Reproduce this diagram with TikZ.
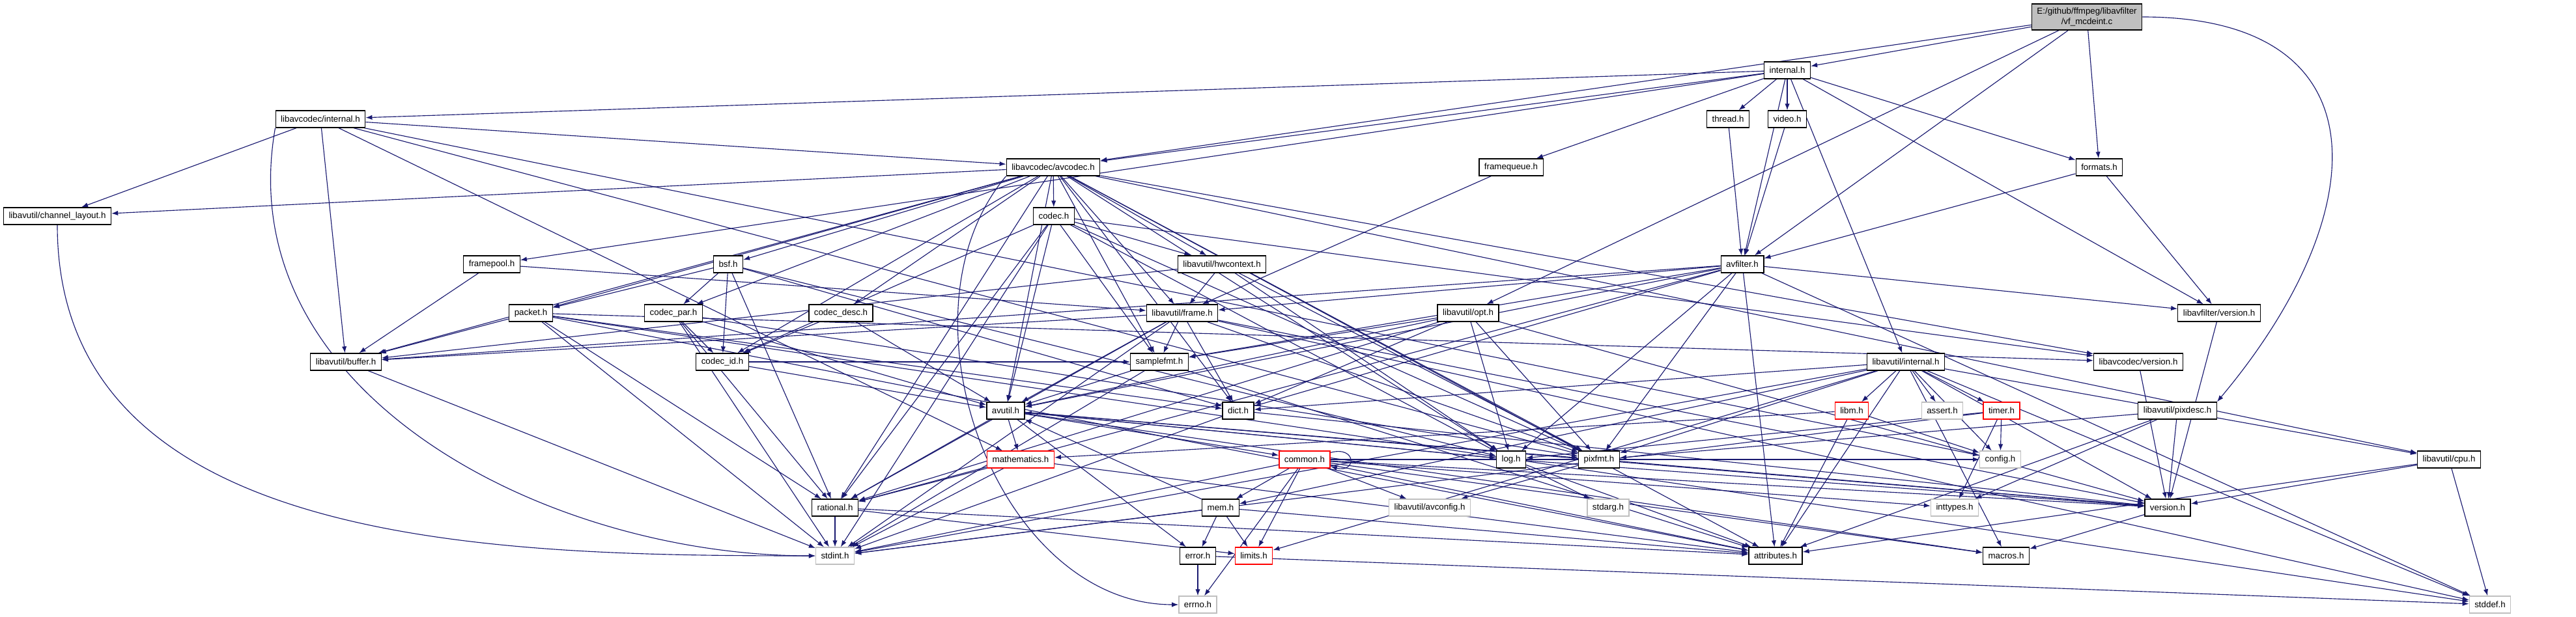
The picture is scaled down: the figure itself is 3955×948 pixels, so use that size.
\documentclass[tikz,border=0pt]{standalone}
\usepackage{fontspec}
\setmainfont{Liberation Sans}
\usetikzlibrary{arrows.meta,backgrounds}

\definecolor{edgeblue}{HTML}{191970}
\definecolor{truncred}{HTML}{FF0000}
\definecolor{sysgray}{HTML}{BFBFBF}

\begin{document}
\begin{tikzpicture}[x=0.75pt, y=-0.75pt,
        block/.style={rectangle, draw=black, line width=1pt, fill=white, minimum height=19.5pt, inner xsep=6pt, inner ysep=2pt, font=\fontsize{10pt}{12pt}\selectfont},
        redblock/.style={block, draw=truncred},
        sysblock/.style={block, draw=sysgray},
        rootblock/.style={block, fill=sysgray, align=center, minimum height=30pt},
        dep/.style={-{Latex[length=7.5pt,width=5.5pt]}, draw=edgeblue, line width=0.85pt}]

        \useasboundingbox (0,0) rectangle (3955,948);

        % nodes, row by row
        \node[rootblock] (root) at (3204,26) {E:/github/ffmpeg/libavfilter\\/vf\_mcdeint.c};
        \node[block] (internal) at (2744,108) {internal.h};
        \node[block] (lcinternal) at (492,183) {libavcodec/internal.h};
        \node[block] (thread) at (2653,183) {thread.h};
        \node[block] (video) at (2744,183) {video.h};
        \node[block] (avcodec) at (1617,257) {libavcodec/avcodec.h};
        \node[block] (framequeue) at (2320,257) {framequeue.h};
        \node[block] (formats) at (3223,257) {formats.h};
        \node[block] (chlayout) at (88,332) {libavutil/channel\_layout.h};
        \node[block] (codec) at (1618,332) {codec.h};
        \node[block] (framepool) at (755,406) {framepool.h};
        \node[block] (bsf) at (1118,406) {bsf.h};
        \node[block] (hwcontext) at (1876,406) {libavutil/hwcontext.h};
        \node[block] (avfilter) at (2675,406) {avfilter.h};
        \node[block] (packet) at (815,481) {packet.h};
        \node[block] (codecpar) at (1034,481) {codec\_par.h};
        \node[block] (codecdesc) at (1291,481) {codec\_desc.h};
        \node[block] (frame) at (1815,481) {libavutil/frame.h};
        \node[block] (opt) at (2254,481) {libavutil/opt.h};
        \node[block] (lfversion) at (3407,481) {libavfilter/version.h};
        \node[block] (buffer) at (531,556) {libavutil/buffer.h};
        \node[block] (codecid) at (1109,556) {codec\_id.h};
        \node[block] (samplefmt) at (1780,556) {samplefmt.h};
        \node[block] (luinternal) at (2926,556) {libavutil/internal.h};
        \node[block] (lcversion) at (3283,556) {libavcodec/version.h};
        \node[block] (avutil) at (1544,631) {avutil.h};
        \node[block] (dict) at (1901,631) {dict.h};
        \node[redblock] (libm) at (2843,631) {libm.h};
        \node[sysblock] (assert) at (2982,631) {assert.h};
        \node[redblock] (timer) at (3073,631) {timer.h};
        \node[block] (pixdesc) at (3343,631) {libavutil/pixdesc.h};
        \node[redblock] (mathematics) at (1567,706) {mathematics.h};
        \node[redblock] (common) at (2003,706) {common.h};
        \node[block] (log) at (2320,706) {log.h};
        \node[block] (pixfmt) at (2455,706) {pixfmt.h};
        \node[sysblock] (config) at (3071,706) {config.h};
        \node[block] (cpu) at (3760,706) {libavutil/cpu.h};
        \node[block] (rational) at (1282,780) {rational.h};
        \node[block] (mem) at (1874,780) {mem.h};
        \node[sysblock] (avconfig) at (2195,780) {libavutil/avconfig.h};
        \node[sysblock] (stdarg) at (2469,780) {stdarg.h};
        \node[sysblock] (inttypes) at (3001,780) {inttypes.h};
        \node[block] (version) at (3328,780) {version.h};
        \node[sysblock] (stdint) at (1282,854) {stdint.h};
        \node[block] (error) at (1839,854) {error.h};
        \node[redblock] (limits) at (1925,854) {limits.h};
        \node[block] (attributes) at (2726,854) {attributes.h};
        \node[block] (macros) at (3080,854) {macros.h};
        \node[sysblock] (errno) at (1839,929) {errno.h};
        \node[sysblock] (stddef) at (3823,929) {stddef.h};

        \begin{scope}[on background layer]
        % vf_mcdeint.c
        \draw[dep] (root) -- (internal);
        \draw[dep] (root) -- (avcodec);
        \draw[dep] (root) -- (avfilter);
        \draw[dep] (root) -- (formats);
        \draw[dep] (root) -- (opt);
        \draw[dep] (root.east) to[out=0, in=50, looseness=1.6] (pixdesc.north east);
        % internal.h
        \draw[dep] (internal) -- (lcinternal);
        \draw[dep] (internal) -- (avcodec);
        \draw[dep] (internal) -- (framequeue);
        \draw[dep] (internal) -- (framepool);
        \draw[dep] (internal) -- (thread);
        \draw[dep] (internal) -- (video);
        \draw[dep] (internal) -- (avfilter);
        \draw[dep] (internal) -- (formats);
        \draw[dep] (internal) -- (lfversion);
        \draw[dep] (internal) -- (luinternal);
        % libavcodec/internal.h
        \draw[dep] (lcinternal) -- (chlayout);
        \draw[dep] (lcinternal) -- (buffer);
        \draw[dep] (lcinternal.south west) to[out=-100, in=180] (stdint);
        \draw[dep] (lcinternal) -- (mathematics);
        \draw[dep] (lcinternal) -- (pixfmt);
        \draw[dep] (lcinternal) -- (config);
        \draw[dep] (lcinternal) -- (avcodec);
        % libavcodec/avcodec.h
        \draw[dep] (avcodec) -- (chlayout);
        \draw[dep] (avcodec) -- (buffer);
        \draw[dep] (avcodec) -- (packet);
        \draw[dep] (avcodec) -- (codecpar);
        \draw[dep] (avcodec) -- (codecdesc);
        \draw[dep] (avcodec) -- (codecid);
        \draw[dep] (avcodec) -- (bsf);
        \draw[dep] (avcodec) -- (codec);
        \draw[dep] (avcodec) -- (hwcontext);
        \draw[dep] (avcodec) -- (frame);
        \draw[dep] (avcodec) -- (samplefmt);
        \draw[dep] (avcodec) -- (avutil);
        \draw[dep] (avcodec) -- (dict);
        \draw[dep] (avcodec) -- (rational);
        \draw[dep] (avcodec) -- (log);
        \draw[dep] (avcodec) -- (pixfmt);
        \draw[dep] (avcodec) -- (attributes);
        \draw[dep] (avcodec) -- (cpu);
        \draw[dep] (avcodec) -- (lcversion);
        \draw[dep] (avcodec.south west) to[out=-130, in=180] (errno);
        % channel_layout.h
        \draw[dep] (chlayout.south) to[out=-90, in=180] (stdint);
        % codec.h
        \draw[dep] (codec) -- (hwcontext);
        \draw[dep] (codec) -- (codecid);
        \draw[dep] (codec) -- (avutil);
        \draw[dep] (codec) -- (log);
        \draw[dep] (codec) -- (pixfmt);
        \draw[dep] (codec) -- (rational);
        \draw[dep] (codec) -- (samplefmt);
        \draw[dep] (codec) -- (lcversion);
        \draw[dep] (codec) -- (stdint);
        % framepool.h, framequeue.h, formats.h, thread.h, video.h
        \draw[dep] (framepool) -- (buffer);
        \draw[dep] (framepool) -- (frame);
        \draw[dep] (framequeue) -- (frame);
        \draw[dep] (formats) -- (avfilter);
        \draw[dep] (formats) -- (lfversion);
        \draw[dep] (thread) -- (avfilter);
        \draw[dep] (video) -- (avfilter);
        % bsf.h
        \draw[dep] (bsf) -- (packet);
        \draw[dep] (bsf) -- (codecpar);
        \draw[dep] (bsf) -- (codecid);
        \draw[dep] (bsf) -- (dict);
        \draw[dep] (bsf) -- (log);
        \draw[dep] (bsf) -- (rational);
        % libavutil/hwcontext.h
        \draw[dep] (hwcontext) -- (buffer);
        \draw[dep] (hwcontext) -- (frame);
        \draw[dep] (hwcontext) -- (log);
        \draw[dep] (hwcontext) -- (pixfmt);
        % avfilter.h
        \draw[dep] (avfilter) -- (buffer);
        \draw[dep] (avfilter) -- (frame);
        \draw[dep] (avfilter) -- (avutil);
        \draw[dep] (avfilter) -- (samplefmt);
        \draw[dep] (avfilter) -- (dict);
        \draw[dep] (avfilter) -- (log);
        \draw[dep] (avfilter) -- (pixfmt);
        \draw[dep] (avfilter) -- (rational);
        \draw[dep] (avfilter) -- (attributes);
        \draw[dep] (avfilter) -- (lfversion);
        \draw[dep] (avfilter) -- (stddef);
        % packet.h
        \draw[dep] (packet) -- (buffer);
        \draw[dep] (packet) -- (stdint);
        \draw[dep] (packet) -- (stddef);
        \draw[dep] (packet) -- (attributes);
        \draw[dep] (packet) -- (dict);
        \draw[dep] (packet) -- (rational);
        \draw[dep] (packet) -- (lcversion);
        % codec_par.h, codec_desc.h
        \draw[dep] (codecpar) -- (codecid);
        \draw[dep] (codecpar) -- (avutil);
        \draw[dep] (codecpar) -- (rational);
        \draw[dep] (codecpar) -- (pixfmt);
        \draw[dep] (codecpar) -- (stdint);
        \draw[dep] (codecdesc) -- (codecid);
        \draw[dep] (codecdesc) -- (avutil);
        % libavutil/frame.h
        \draw[dep] (frame) -- (buffer);
        \draw[dep] (frame) -- (avutil);
        \draw[dep] (frame) -- (dict);
        \draw[dep] (frame) -- (rational);
        \draw[dep] (frame) -- (samplefmt);
        \draw[dep] (frame) -- (pixfmt);
        \draw[dep] (frame) -- (version);
        \draw[dep] (frame) -- (stdint);
        \draw[dep] (frame) -- (stddef);
        % libavutil/opt.h
        \draw[dep] (opt) -- (avutil);
        \draw[dep] (opt) -- (dict);
        \draw[dep] (opt) -- (log);
        \draw[dep] (opt) -- (pixfmt);
        \draw[dep] (opt) -- (rational);
        \draw[dep] (opt) -- (samplefmt);
        \draw[dep] (opt) -- (version);
        % versions, buffer.h, codec_id.h, samplefmt.h
        \draw[dep] (lfversion) -- (version);
        \draw[dep] (lcversion) -- (version);
        \draw[dep] (buffer) -- (stdint);
        \draw[dep] (codecid) -- (avutil);
        \draw[dep] (codecid) -- (samplefmt);
        \draw[dep] (samplefmt) -- (avutil);
        \draw[dep] (samplefmt) -- (attributes);
        \draw[dep] (samplefmt) -- (stdint);
        % libavutil/internal.h
        \draw[dep] (luinternal) -- (libm);
        \draw[dep] (luinternal) -- (assert);
        \draw[dep] (luinternal) -- (timer);
        \draw[dep] (luinternal) -- (config);
        \draw[dep] (luinternal) -- (cpu);
        \draw[dep] (luinternal) -- (dict);
        \draw[dep] (luinternal) -- (mem);
        \draw[dep] (luinternal) -- (pixfmt);
        \draw[dep] (luinternal) -- (version);
        \draw[dep] (luinternal) -- (macros);
        \draw[dep] (luinternal) -- (attributes);
        \draw[dep] (luinternal) -- (limits);
        \draw[dep] (luinternal) -- (stdint);
        \draw[dep] (luinternal) -- (stddef);
        % avutil.h
        \draw[dep] (avutil) -- (common);
        \draw[dep] (avutil) -- (error);
        \draw[dep] (avutil) -- (rational);
        \draw[dep] (avutil) -- (version);
        \draw[dep] (avutil) -- (macros);
        \draw[dep] (avutil) -- (mathematics);
        \draw[dep] (avutil) -- (log);
        \draw[dep] (avutil) -- (pixfmt);
        % dict.h, libm.h, timer.h, pixdesc.h
        \draw[dep] (dict) -- (stdint);
        \draw[dep] (dict) -- (version);
        \draw[dep] (libm) -- (mathematics);
        \draw[dep] (libm) -- (config);
        \draw[dep] (libm) -- (attributes);
        \draw[dep] (timer) -- (config);
        \draw[dep] (timer) -- (inttypes);
        \draw[dep] (timer) -- (log);
        \draw[dep] (timer) -- (stdint);
        \draw[dep] (pixdesc) -- (inttypes);
        \draw[dep] (pixdesc) -- (attributes);
        \draw[dep] (pixdesc) -- (pixfmt);
        \draw[dep] (pixdesc) -- (version);
        % mathematics.h
        \draw[dep] (mathematics) -- (rational);
        \draw[dep] (mathematics) -- (stdint);
        \draw[dep] (mathematics) -- (attributes);
        % common.h
        \draw[dep] (common) to[loop right, looseness=5] (common);
        \draw[dep] (common) -- (avconfig);
        \draw[dep] (common) -- (limits);
        \draw[dep] (common) -- (mem);
        \draw[dep] (common) -- (stdint);
        \draw[dep] (common) -- (errno);
        \draw[dep] (common) -- (inttypes);
        \draw[dep] (common) -- (attributes);
        \draw[dep] (common) -- (macros);
        \draw[dep] (common) -- (version);
        \draw[dep] (common) -- (config);
        % log.h, pixfmt.h, cpu.h
        \draw[dep] (log) -- (stdarg);
        \draw[dep] (log) -- (avutil);
        \draw[dep] (log) -- (attributes);
        \draw[dep] (log) -- (version);
        \draw[dep] (pixfmt) -- (avconfig);
        \draw[dep] (pixfmt) -- (version);
        \draw[dep] (cpu) -- (stddef);
        \draw[dep] (cpu) -- (attributes);
        \draw[dep] (cpu) -- (version);
        % rational.h, mem.h, version.h, error.h
        \draw[dep] (rational) -- (stdint);
        \draw[dep] (rational) -- (limits);
        \draw[dep] (rational) -- (attributes);
        \draw[dep] (mem) -- (error);
        \draw[dep] (mem) -- (limits);
        \draw[dep] (mem) -- (stdint);
        \draw[dep] (mem) -- (attributes);
        \draw[dep] (mem) -- (avutil);
        \draw[dep] (version) -- (macros);
        \draw[dep] (error) -- (errno);
        \draw[dep] (error) -- (stddef);
        \end{scope}
    \end{tikzpicture}
\end{document}
